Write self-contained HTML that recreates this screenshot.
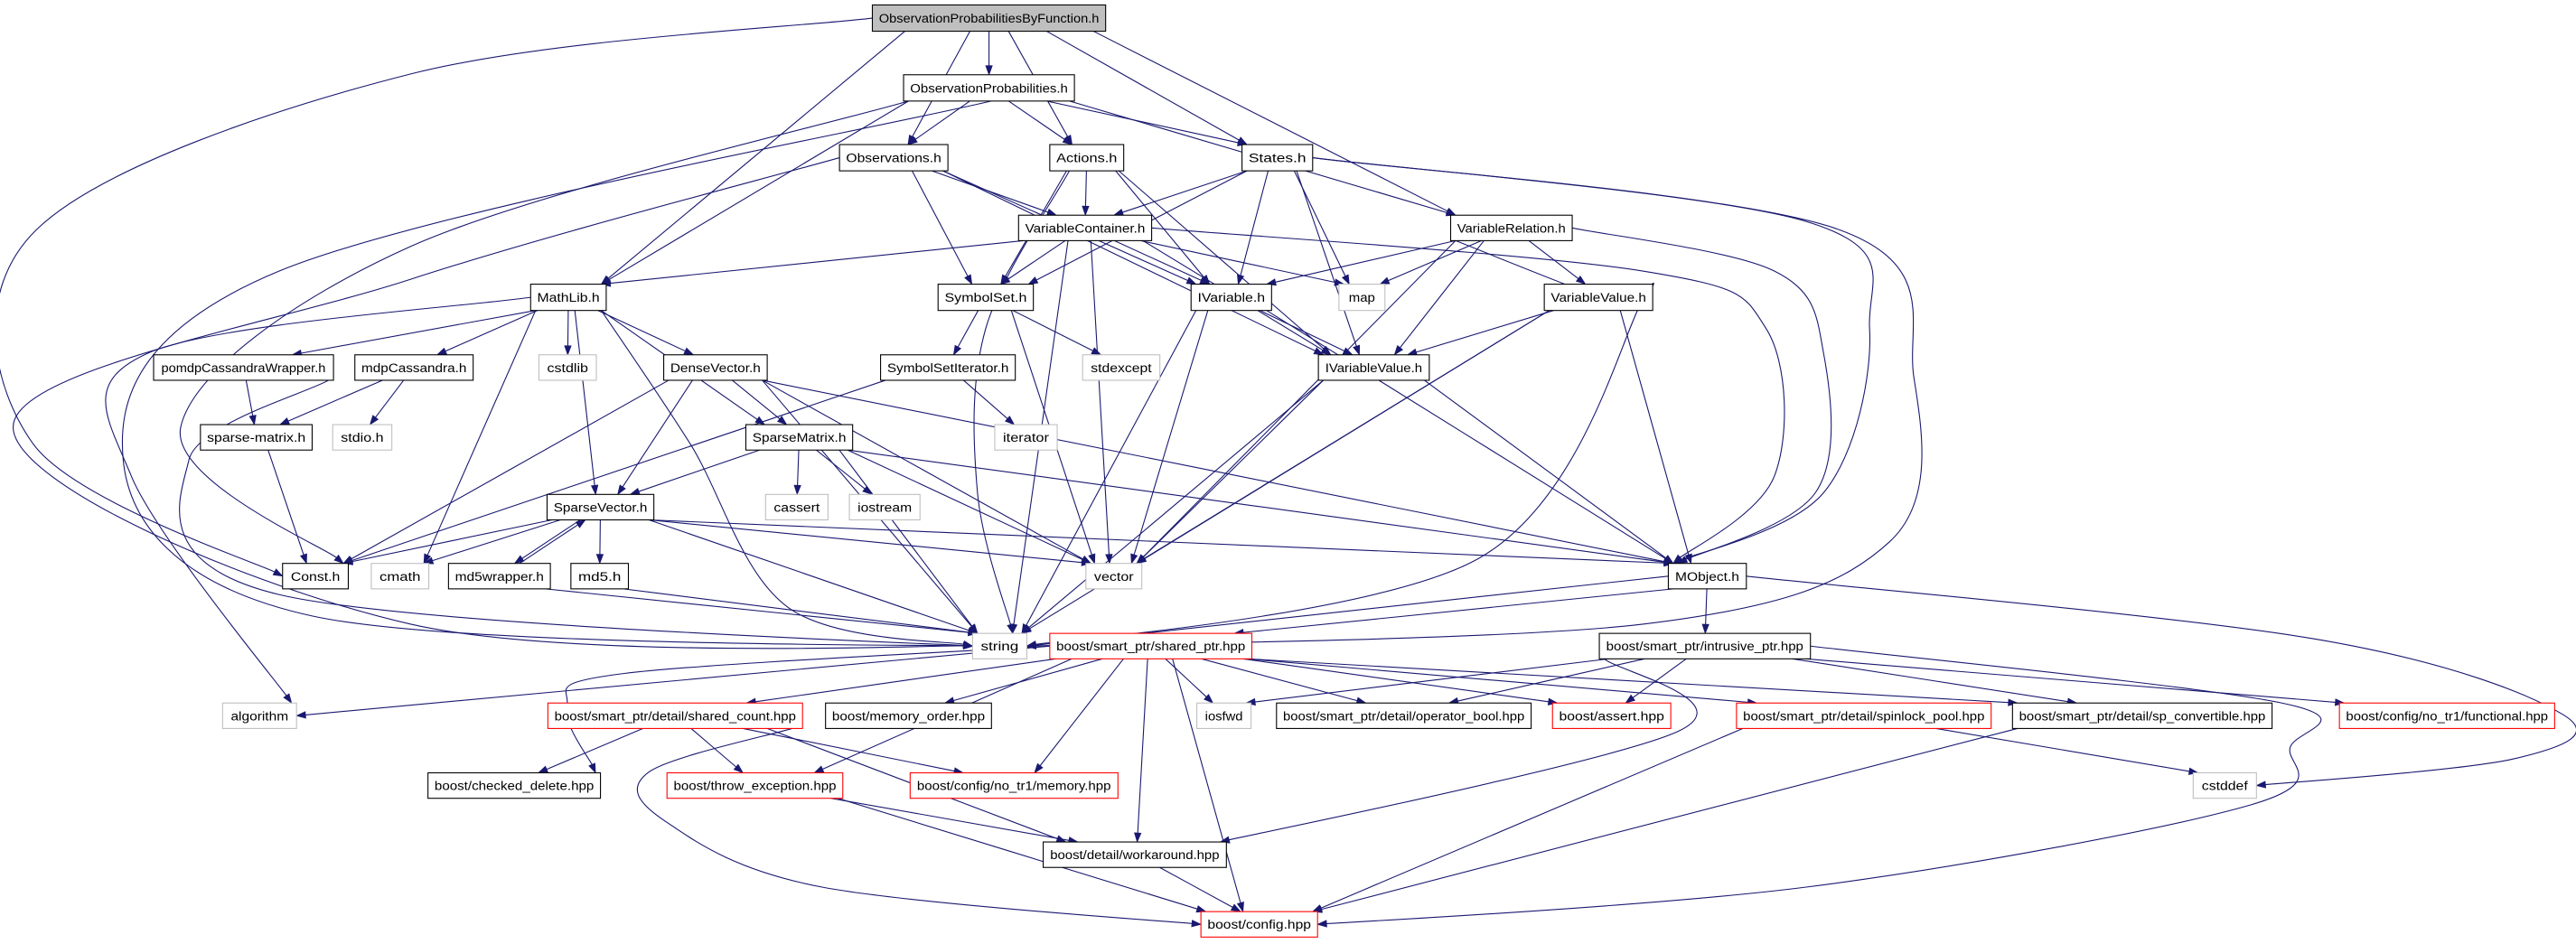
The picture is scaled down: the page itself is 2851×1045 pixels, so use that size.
<!DOCTYPE html>
<html><head><meta charset="utf-8"><style>
html,body{margin:0;padding:0;background:#fff;}
svg{display:block}
rect{fill:#fff;stroke:#000;stroke-width:0.6}
rect.g{stroke:#bfbfbf}
rect.r{stroke:#ff0000}
rect.root{fill:#bfbfbf}
text{font-family:"Liberation Sans","DejaVu Sans",sans-serif;font-size:7.6px;text-anchor:middle;fill:#000}
path.e{fill:none;stroke:#191970;stroke-width:0.6}
path.a{fill:#191970;stroke:#191970;stroke-width:0.4}
</style></head><body>
<svg id="s" xmlns="http://www.w3.org/2000/svg" width="2851" height="1045" viewBox="0 0 1568 574.7">
<g id="edges"></g>
<g id="nodes">
<rect id="opbf" class="root" x="531" y="3" width="142" height="16"/><text x="602" y="13.8" textLength="134" lengthAdjust="spacingAndGlyphs">ObservationProbabilitiesByFunction.h</text>
<rect id="op" x="550" y="45.5" width="104" height="16"/><text x="602" y="56.3" textLength="96" lengthAdjust="spacingAndGlyphs">ObservationProbabilities.h</text>
<rect id="obs" x="511" y="88" width="66" height="16"/><text x="544" y="98.8" textLength="58" lengthAdjust="spacingAndGlyphs">Observations.h</text>
<rect id="act" x="639" y="88" width="45" height="16"/><text x="661.5" y="98.8" textLength="37" lengthAdjust="spacingAndGlyphs">Actions.h</text>
<rect id="sta" x="756" y="88" width="43" height="16"/><text x="777.5" y="98.8" textLength="35" lengthAdjust="spacingAndGlyphs">States.h</text>
<rect id="vc" x="620" y="131" width="81" height="15.5"/><text x="660.5" y="141.5" textLength="73" lengthAdjust="spacingAndGlyphs">VariableContainer.h</text>
<rect id="vr" x="883" y="131" width="74" height="15.5"/><text x="920" y="141.5" textLength="66" lengthAdjust="spacingAndGlyphs">VariableRelation.h</text>
<rect id="ml" x="323" y="173" width="46" height="16"/><text x="346" y="183.8" textLength="38" lengthAdjust="spacingAndGlyphs">MathLib.h</text>
<rect id="ss" x="571" y="173" width="58" height="16"/><text x="600" y="183.8" textLength="50" lengthAdjust="spacingAndGlyphs">SymbolSet.h</text>
<rect id="iv" x="725" y="173" width="49" height="16"/><text x="749.5" y="183.8" textLength="41" lengthAdjust="spacingAndGlyphs">IVariable.h</text>
<rect id="map" class="g" x="815" y="173" width="28" height="16"/><text x="829" y="183.8" textLength="16" lengthAdjust="spacingAndGlyphs">map</text>
<rect id="vv" x="940" y="173" width="66" height="16"/><text x="973" y="183.8" textLength="58" lengthAdjust="spacingAndGlyphs">VariableValue.h</text>
<rect id="pcw" x="93.5" y="216" width="109.5" height="15.5"/><text x="148.2" y="226.5" textLength="100" lengthAdjust="spacingAndGlyphs">pomdpCassandraWrapper.h</text>
<rect id="mdp" x="216" y="216" width="72" height="15.5"/><text x="252" y="226.5" textLength="64" lengthAdjust="spacingAndGlyphs">mdpCassandra.h</text>
<rect id="cstdlib" class="g" x="328" y="216" width="35" height="15.5"/><text x="345.5" y="226.5" textLength="25" lengthAdjust="spacingAndGlyphs">cstdlib</text>
<rect id="dv" x="404" y="216" width="63" height="15.5"/><text x="435.5" y="226.5" textLength="55" lengthAdjust="spacingAndGlyphs">DenseVector.h</text>
<rect id="ssi" x="536" y="216" width="82" height="15.5"/><text x="577" y="226.5" textLength="74" lengthAdjust="spacingAndGlyphs">SymbolSetIterator.h</text>
<rect id="stdexcept" class="g" x="659" y="216" width="47" height="15.5"/><text x="682.5" y="226.5" textLength="37" lengthAdjust="spacingAndGlyphs">stdexcept</text>
<rect id="ivv" x="802.5" y="216" width="67.5" height="15.5"/><text x="836.2" y="226.5" textLength="59" lengthAdjust="spacingAndGlyphs">IVariableValue.h</text>
<rect id="sm" x="122" y="258.5" width="68" height="15.5"/><text x="156" y="269" textLength="60" lengthAdjust="spacingAndGlyphs">sparse-matrix.h</text>
<rect id="stdio" class="g" x="202.5" y="258.5" width="36" height="15.5"/><text x="220.5" y="269" textLength="26" lengthAdjust="spacingAndGlyphs">stdio.h</text>
<rect id="spm" x="454" y="258.5" width="65" height="15.5"/><text x="486.5" y="269" textLength="57" lengthAdjust="spacingAndGlyphs">SparseMatrix.h</text>
<rect id="iterator" class="g" x="605.5" y="258.5" width="38" height="15.5"/><text x="624.5" y="269" textLength="28" lengthAdjust="spacingAndGlyphs">iterator</text>
<rect id="sv" x="333" y="301" width="65" height="15.5"/><text x="365.5" y="311.5" textLength="57" lengthAdjust="spacingAndGlyphs">SparseVector.h</text>
<rect id="cassert" class="g" x="466" y="301" width="38" height="15.5"/><text x="485" y="311.5" textLength="28" lengthAdjust="spacingAndGlyphs">cassert</text>
<rect id="iostream" class="g" x="517" y="301" width="43" height="15.5"/><text x="538.5" y="311.5" textLength="33" lengthAdjust="spacingAndGlyphs">iostream</text>
<rect id="const" x="172" y="343" width="40" height="15.5"/><text x="192" y="353.5" textLength="30" lengthAdjust="spacingAndGlyphs">Const.h</text>
<rect id="cmath" class="g" x="226" y="343" width="35" height="15.5"/><text x="243.5" y="353.5" textLength="25" lengthAdjust="spacingAndGlyphs">cmath</text>
<rect id="md5w" x="273" y="343" width="62" height="15.5"/><text x="304" y="353.5" textLength="54" lengthAdjust="spacingAndGlyphs">md5wrapper.h</text>
<rect id="md5" x="347.5" y="343" width="35" height="15.5"/><text x="365" y="353.5" textLength="26" lengthAdjust="spacingAndGlyphs">md5.h</text>
<rect id="vector" class="g" x="661" y="343" width="34" height="15.5"/><text x="678" y="353.5" textLength="24" lengthAdjust="spacingAndGlyphs">vector</text>
<rect id="mobj" x="1015.5" y="343" width="47.5" height="15.5"/><text x="1039.2" y="353.5" textLength="39" lengthAdjust="spacingAndGlyphs">MObject.h</text>
<rect id="string" class="g" x="592" y="385.6" width="33" height="15.5"/><text x="608.5" y="396.1" textLength="23" lengthAdjust="spacingAndGlyphs">string</text>
<rect id="sp" class="r" x="639" y="385.6" width="123" height="15.5"/><text x="700.5" y="396.1" textLength="115" lengthAdjust="spacingAndGlyphs">boost/smart_ptr/shared_ptr.hpp</text>
<rect id="ip" x="973.5" y="385.6" width="128.5" height="15.5"/><text x="1037.7" y="396.1" textLength="120" lengthAdjust="spacingAndGlyphs">boost/smart_ptr/intrusive_ptr.hpp</text>
<rect id="alg" class="g" x="135.5" y="428" width="45" height="15.5"/><text x="158" y="438.5" textLength="35" lengthAdjust="spacingAndGlyphs">algorithm</text>
<rect id="sc" class="r" x="333.5" y="428" width="155" height="15.5"/><text x="411" y="438.5" textLength="147" lengthAdjust="spacingAndGlyphs">boost/smart_ptr/detail/shared_count.hpp</text>
<rect id="mo" x="502.5" y="428" width="101" height="15.5"/><text x="553" y="438.5" textLength="93" lengthAdjust="spacingAndGlyphs">boost/memory_order.hpp</text>
<rect id="iosfwd" class="g" x="728.5" y="428" width="33" height="15.5"/><text x="745" y="438.5" textLength="23" lengthAdjust="spacingAndGlyphs">iosfwd</text>
<rect id="ob" x="777" y="428" width="155" height="15.5"/><text x="854.5" y="438.5" textLength="147" lengthAdjust="spacingAndGlyphs">boost/smart_ptr/detail/operator_bool.hpp</text>
<rect id="assert" class="r" x="945" y="428" width="72" height="15.5"/><text x="981" y="438.5" textLength="64" lengthAdjust="spacingAndGlyphs">boost/assert.hpp</text>
<rect id="spl" class="r" x="1057" y="428" width="155" height="15.5"/><text x="1134.5" y="438.5" textLength="147" lengthAdjust="spacingAndGlyphs">boost/smart_ptr/detail/spinlock_pool.hpp</text>
<rect id="spc" x="1225" y="428" width="158" height="15.5"/><text x="1304" y="438.5" textLength="150" lengthAdjust="spacingAndGlyphs">boost/smart_ptr/detail/sp_convertible.hpp</text>
<rect id="func" class="r" x="1424" y="428" width="131" height="15.5"/><text x="1489.5" y="438.5" textLength="123" lengthAdjust="spacingAndGlyphs">boost/config/no_tr1/functional.hpp</text>
<rect id="cd" x="260.5" y="470.5" width="105" height="15.5"/><text x="313" y="481" textLength="97" lengthAdjust="spacingAndGlyphs">boost/checked_delete.hpp</text>
<rect id="te" class="r" x="406" y="470.5" width="107" height="15.5"/><text x="459.5" y="481" textLength="99" lengthAdjust="spacingAndGlyphs">boost/throw_exception.hpp</text>
<rect id="mem" class="r" x="554" y="470.5" width="126.5" height="15.5"/><text x="617.2" y="481" textLength="118" lengthAdjust="spacingAndGlyphs">boost/config/no_tr1/memory.hpp</text>
<rect id="cstddef" class="g" x="1335" y="470.5" width="38.5" height="15.5"/><text x="1354.2" y="481" textLength="28" lengthAdjust="spacingAndGlyphs">cstddef</text>
<rect id="wa" x="635" y="512.6" width="111.5" height="15.5"/><text x="690.7" y="523.1" textLength="103" lengthAdjust="spacingAndGlyphs">boost/detail/workaround.hpp</text>
<rect id="cfg" class="r" x="731" y="555" width="71" height="15.5"/><text x="766.5" y="565.5" textLength="63" lengthAdjust="spacingAndGlyphs">boost/config.hpp</text>
</g>
</svg>
<script>
(function(){
var E=[
['opbf','const',{s:'L',v:[[250,45],[22,140],[20,270]],e:'L'}],
['opbf','op'],['opbf','obs'],['opbf','act'],['opbf','sta'],['opbf','vr'],['opbf','ml'],
['op','obs'],['op','act'],['op','sta'],['op','vr'],['op','ml'],
['op','const',{v:[[250,150],[110,260]]}],
['op','string',{v:[[170,165],[75,280],[190,375]],e:'L'}],
['obs','string',{s:'L',v:[[250,170],[8,260],[250,380]],e:'L'}],
['obs','vc'],['obs','ss'],['obs','iv'],['obs','ivv'],
['act','ss'],['act','vc'],['act','iv'],['act','ivv'],['act','string',{v:[[600,200],[595,300]]}],
['sta','ss'],['sta','vc'],['sta','iv'],['sta','ivv'],['sta','map'],
['sta','mobj',{s:'R',v:[[1100,135],[1138,200],[1110,300]]}],
['sta','string',{s:'R',v:[[1120,140],[1165,230],[1150,330],[1000,380]],e:'R'}],
['vc','ml'],['vc','ss'],['vc','iv'],['vc','ivv'],['vc','map'],['vc','string'],['vc','vector'],
['vc','mobj',{s:'R',v:[[1000,165],[1075,200],[1080,290]]}],
['vr','iv'],['vr','map'],['vr','ivv'],['vr','vv'],['vr','vector'],
['vr','mobj',{s:'R',v:[[1080,165],[1110,215],[1105,300]]}],
['vr','string',{v:[[985,185],[1000,182],[900,340]],e:'R'}],
['ml','pcw'],['ml','mdp'],['ml','cstdlib'],['ml','dv'],['ml','spm'],['ml','sv'],['ml','cmath'],
['ml','alg',{s:'L',v:[[90,215],[80,290]]}],
['ml','string',{v:[[420,270],[480,370]],e:'L'}],
['ss','ssi'],['ss','stdexcept'],['ss','vector'],
['iv','ivv'],['iv','mobj'],['iv','vector'],['iv','string'],
['vv','ivv'],['vv','mobj'],['vv','vector'],['vv','string'],
['ivv','mobj'],['ivv','vector'],['ivv','string'],
['pcw','sm'],['pcw','string',{v:[[115,280],[170,362]],e:'L'}],
['mdp','sm'],['mdp','stdio'],
['dv','spm'],['dv','sv'],['dv','const'],['dv','vector'],['dv','string'],['dv','mobj'],
['ssi','iterator'],['ssi','const'],
['sm','const'],
['spm','sv'],['spm','cassert'],['spm','iostream'],['spm','vector'],['spm','string'],['spm','mobj'],
['sv','const'],['sv','cmath'],['sv','md5w'],['sv','md5'],['sv','vector'],['sv','string'],['sv','mobj'],
['md5w','sv'],['md5w','string'],['md5','string'],
['mobj','string',{s:'L',e:'R'}],['mobj','sp'],['mobj','ip'],
['mobj','cstddef',{s:'R',v:[[1409,389],[1560,435],[1530,462]],e:'R'}],
['sp','alg',{s:'L',e:'R'}],['sp','sc'],['sp','mo'],
['sp','cd',{s:'L',v:[[380,410],[345,430]]}],
['sp','te'],['sp','mem'],['sp','wa'],['sp','cfg'],['sp','iosfwd'],['sp','ob'],['sp','assert'],['sp','spl'],['sp','spc'],
['ip','iosfwd'],['ip','ob'],['ip','assert'],['ip','spc'],['ip','func'],
['ip','wa',{v:[[1022,445]]}],
['ip','cfg',{s:'R',v:[[1389,428],[1394,455],[1370,490],[1100,540]],e:'R'}],
['sc','cd'],['sc','te'],['sc','mem'],['sc','wa'],
['sc','cfg',{v:[[395,470],[405,500],[500,540]],e:'L'}],
['te','wa'],['te','cfg'],['wa','cfg'],
['spl','cfg'],['spl','cstddef'],['spc','cfg']
];
function box(id){var r=document.getElementById(id);var x=+r.getAttribute('x'),y=+r.getAttribute('y'),w=+r.getAttribute('width'),h=+r.getAttribute('height');return{x1:x,y1:y,x2:x+w,y2:y+h,cx:x+w/2,cy:y+h/2,w:w,h:h};}
function cl(v,m){return Math.max(-m,Math.min(m,v));}
var g=document.getElementById('edges'),NS='http://www.w3.org/2000/svg';
function add(cls,d){var p=document.createElementNS(NS,'path');p.setAttribute('class',cls);p.setAttribute('d',d);g.appendChild(p);}
E.forEach(function(ed){
 var s=box(ed[0]),t=box(ed[1]),o=ed[2]||{};
 var down=t.y1>s.y2-1, p0,p1;
 if(o.s=='L')p0=[s.x1,s.cy];else if(o.s=='R')p0=[s.x2,s.cy];
 else{var dx=cl((t.cx-s.cx)*0.2,s.w/2-3);p0=down?[s.cx+dx,s.y2]:[s.cx+dx,s.y1];}
 if(o.e=='L')p1=[t.x1,t.cy];else if(o.e=='R')p1=[t.x2,t.cy];
 else{var dx2=cl((s.cx-t.cx)*0.15,t.w/2-3);p1=down?[t.cx+dx2,t.y1]:[t.cx+dx2,t.y2];}
 var P=[p0].concat(o.v||[]).concat([p1]);
 var d='M'+P[0][0]+','+P[0][1],last=null;
 for(var i=0;i<P.length-1;i++){
  var a=P[i-1]||P[i],b=P[i],c=P[i+1],e=P[i+2]||c;
  var c1=[b[0]+(c[0]-a[0])/6,b[1]+(c[1]-a[1])/6],c2=[c[0]-(e[0]-b[0])/6,c[1]-(e[1]-b[1])/6];
  if(i==P.length-2){
   var ux=c[0]-c2[0],uy=c[1]-c2[1];
   if(P.length==2){ux=c[0]-b[0];uy=c[1]-b[1];}
   var L=Math.hypot(ux,uy)||1;ux/=L;uy/=L;
   var bx=c[0]-ux*5.5,by=c[1]-uy*5.5;
   if(P.length==2){c1=[b[0]+(bx-b[0])/3,b[1]+(by-b[1])/3];c2=[b[0]+2*(bx-b[0])/3,b[1]+2*(by-b[1])/3];}
   else{c2=[bx-ux*Math.min(L*0.5,10),by-uy*Math.min(L*0.5,10)];}
   d+=' C'+c1[0]+','+c1[1]+' '+c2[0]+','+c2[1]+' '+bx+','+by;
   last=[c,ux,uy,bx,by];
  } else {
   d+=' C'+c1[0]+','+c1[1]+' '+c2[0]+','+c2[1]+' '+c[0]+','+c[1];
  }
 }
 add('e',d);
 var c=last[0],ux=last[1],uy=last[2],bx=last[3],by=last[4];
 add('a','M'+c[0]+','+c[1]+' L'+(bx-uy*2)+','+(by+ux*2)+' L'+(bx+uy*2)+','+(by-ux*2)+' Z');
});
})();
</script>
</body></html>
